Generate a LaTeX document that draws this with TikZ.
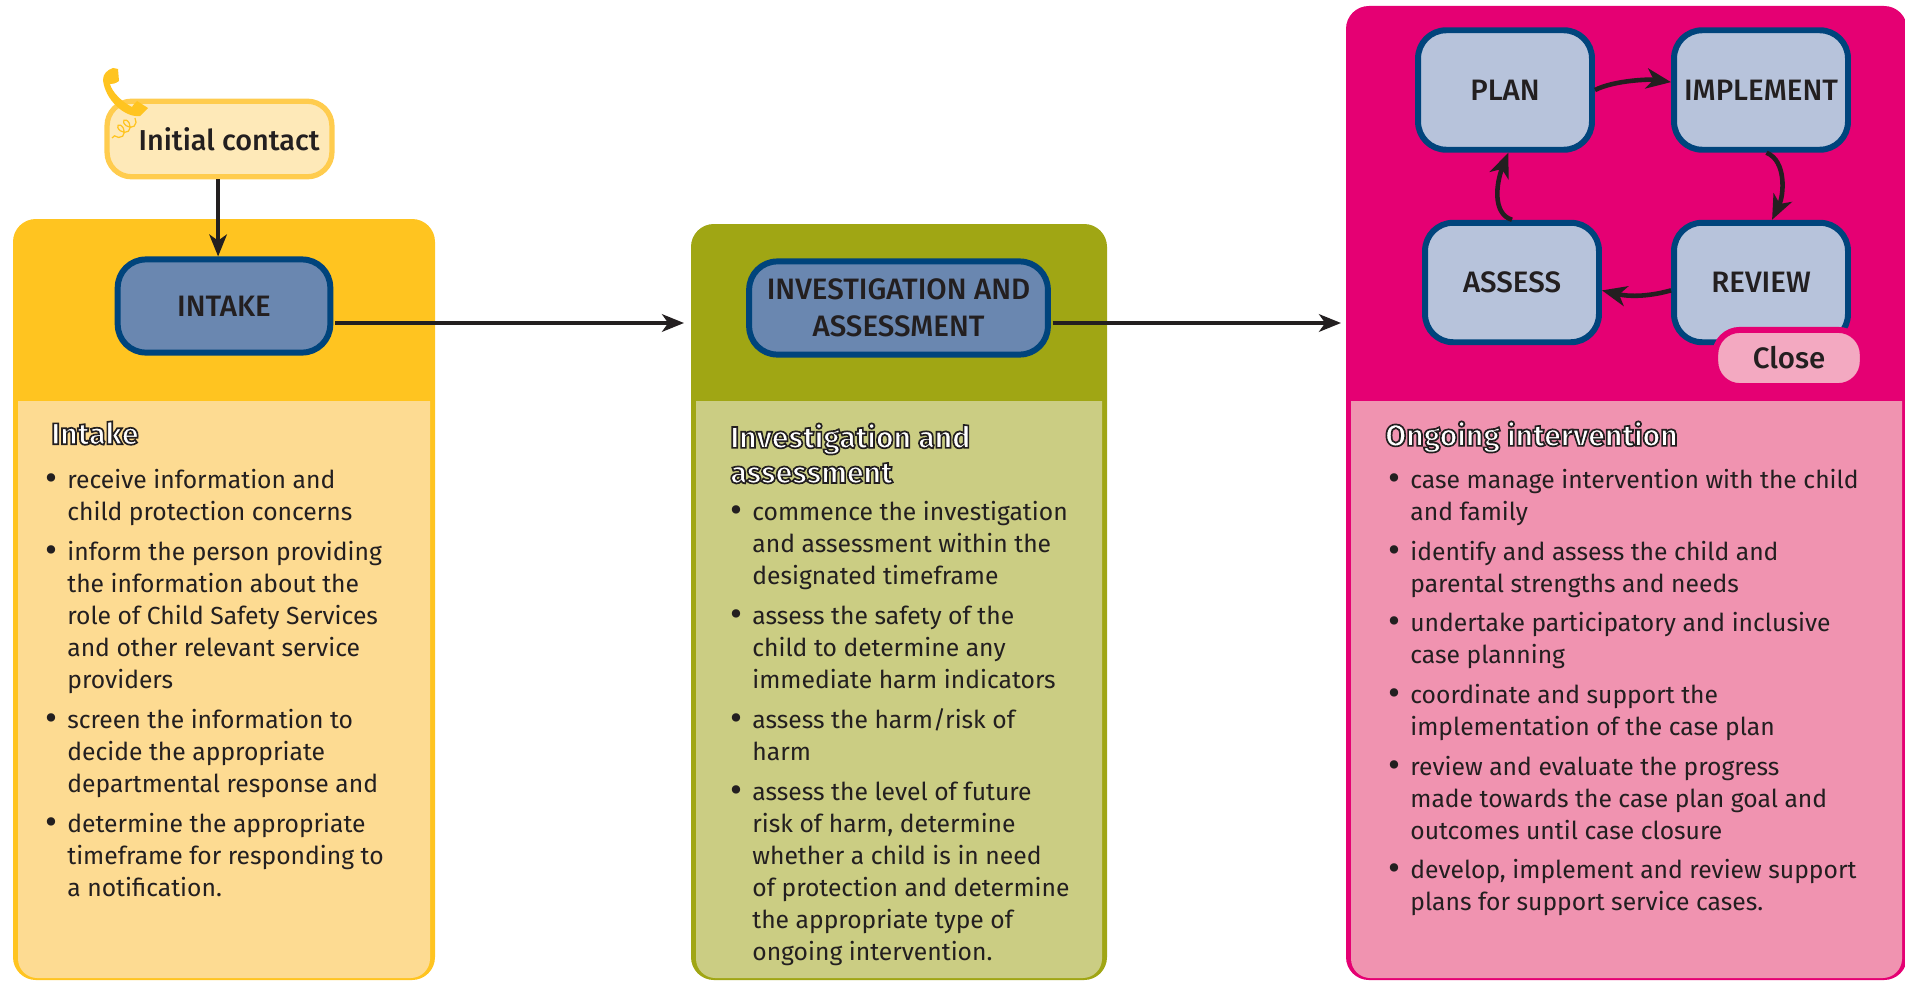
\documentclass[tikz,border=0pt]{standalone}
\usepackage{fontspec}
\usepackage{xcolor}
\usetikzlibrary{arrows.meta, positioning, calc, decorations.pathmorphing}
\setmainfont{Fira Sans}
\newfontfamily\labelfont{Fira Sans Medium}

\definecolor{inkdark}{HTML}{231F20}
\definecolor{intakedark}{HTML}{FFC420}
\definecolor{intakelight}{HTML}{FDDB92}
\definecolor{investdark}{HTML}{A0A614}
\definecolor{investlight}{HTML}{CBCD83}
\definecolor{ongoingdark}{HTML}{E50073}
\definecolor{ongoinglight}{HTML}{F093B0}
\definecolor{boxline}{HTML}{00447C}
\definecolor{boxblue}{HTML}{6A87B0}
\definecolor{boxpale}{HTML}{B7C3DB}
\definecolor{contactfill}{HTML}{FEE9B8}
\definecolor{contactline}{HTML}{FFCC4E}
\definecolor{closefill}{HTML}{F3A9C1}

% white letters with a dark edge
\newcommand{\outlined}[1]{\special{pdf:code q 2 Tr 0.95 w 0.137 0.122 0.125 RG 1 1 1 rg}#1\special{pdf:code Q}}
\newcommand{\pointmark}{\rule{0pt}{12pt}\llap{\raisebox{-1pt}{\fontsize{21}{18}\selectfont\textbullet}\hspace{5.5pt}}}

\tikzset{
  stage/.style={draw=boxline, fill=boxblue, line width=3.4pt, rounded corners=16pt, align=center, text=inkdark,
    inner sep=0pt, font=\labelfont\fontsize{16.8}{20.8}\selectfont},
  cyclebox/.style={stage, fill=boxpale, minimum width=99pt, minimum height=68pt},
  flow/.style={-{Stealth[length=12.5pt, width=10pt, inset=3.5pt]}, draw=inkdark, line width=2pt},
  cyclearrow/.style={flow, line width=2.6pt, -{Stealth[length=14pt, width=11.5pt, inset=4pt]}},
  heading/.style={anchor=north west, inner sep=0pt, align=left, text=inkdark,
    font=\bfseries\fontsize{17.2}{20}\selectfont},
  points/.style={anchor=north west, inner sep=0pt, align=left, text=inkdark,
    font=\fontsize{14.05}{18.2}\selectfont},
}

\begin{document}
\begin{tikzpicture}[x=0.02cm, y=-0.02cm]
  \useasboundingbox (0,0) rectangle (1905,980);
  \clip (0,0) rectangle (1905,980);

  % Panels
  \foreach \xa/\xb/\ya/\main/\pale in {13/435/219/intakedark/intakelight, 691/1107/224/investdark/investlight, 1346/1907/6/ongoingdark/ongoinglight} {
      \fill[\main, rounded corners=13pt] (\xa,\ya) rectangle (\xb,980);
      \fill[\pale] (\xa+5,401) [rounded corners=11pt] -- (\xa+5,978) -- (\xb-5,978) [sharp corners] -- (\xb-5,401) -- cycle;
  }

  % Initial contact
  \node[draw=contactline, fill=contactfill, line width=3pt, rounded corners=14pt, inner sep=0pt, minimum width=128pt, minimum height=43pt,
    text=inkdark, font=\labelfont\fontsize{16.4}{19}\selectfont] (contact) at (219.5,139) {\hspace{11pt}Initial contact};

  % Telefon
  \fill[intakedark] (113,68) -- (118,69) -- (119,81) .. controls (115,84) and (112,84) .. (110,84)
    .. controls (112,92) and (122,102) .. (132,107) .. controls (133,105) and (135,103) .. (137,101)
    -- (148,108) -- (140,116) .. controls (125,118) and (105,100) .. (103,80) .. controls (103,74) and (107,70) .. (113,68) -- cycle;
  \draw[intakedark, line width=0.7pt, decorate, decoration={coil, aspect=0.7, segment length=4.4pt, amplitude=3.2pt}] (135,118) -- (112,138);

  % Stages
  \node[stage, minimum width=121pt, minimum height=53pt] (intake) at (224,306) {INTAKE};
  \node[stage, minimum width=170pt, minimum height=53pt] (invest) at (898.5,308) {INVESTIGATION AND\\ASSESSMENT};
  \coordinate (ongoing) at (1341,323);
  \coordinate (investin) at (684,323);
  \draw[flow] (contact.-92) -- (contact.-92 |- intake.north);
  \draw[flow, shorten <=1pt] (intake.east |- investin) -- (investin);
  \draw[flow, shorten <=1pt] (invest.east |- ongoing) -- (ongoing);

  % Kreislauf
  \node[cyclebox] (plan) at (1505,90) {PLAN};
  \node[cyclebox] (implement) at (1761,90) {IMPLEMENT};
  \node[cyclebox] (assess) at (1512,282.5) {ASSESS};
  \node[cyclebox] (review) at (1761,282.5) {REVIEW};
  \draw[cyclearrow] (plan.east) .. controls +(20,-10) and +(-20,-3) .. (implement.175);
  \draw[cyclearrow] (implement.-85) .. controls +(20,8) and +(12,-25) .. (review.80);
  \draw[cyclearrow] (review.185.4) .. controls +(-25,7) and +(25,6) .. (assess.-5);
  \draw[cyclearrow] (assess.north) .. controls +(-20,-6) and +(-12,30) .. (plan.-87);
  \node[draw=ongoingdark, fill=closefill, line width=3.4pt, rounded corners=14pt, inner sep=0pt, minimum width=84pt, minimum height=32pt,
    text=inkdark, font=\labelfont\fontsize{16.8}{20}\selectfont] (close) at (1789,358) {Close};

  % Headings
  \node[heading] (intakehead) at (51,421) {\outlined{Intake}};
  \node[heading] (investhead) at (730,423) {\outlined{Investigation and}\\\outlined{assessment}};
  \node[heading] (ongoinghead) at (1385,421) {\outlined{Ongoing intervention}};

  % Texte
  \foreach \name/\xpos/\ypos/\body in {
    a1/67/467.5/{receive information and\\child protection concerns},
    a2/67/539.5/{inform the person providing\\the information about the\\role of Child Safety Services\\and other relevant service\\providers},
    a3/67/707.5/{screen the information to\\decide the appropriate\\departmental response and},
    a4/67/811.5/{determine the appropriate\\timeframe for responding to\\a notification.},
    b1/752/499.5/{commence the investigation\\and assessment within the\\designated timeframe},
    b2/752/603.5/{assess the safety of the\\child to determine any\\immediate harm indicators},
    b3/752/707.5/{assess the harm/risk of\\harm},
    b4/752/779.5/{assess the level of future\\risk of harm, determine\\whether a child is in need\\of protection and determine\\the appropriate type of\\ongoing intervention.},
    c1/1410/467.5/{case manage intervention with the child\\and family},
    c2/1410/539.5/{identify and assess the child and\\parental strengths and needs},
    c3/1410/610.5/{undertake participatory and inclusive\\case planning},
    c4/1410/682.5/{coordinate and support the\\implementation of the case plan},
    c5/1410/754.5/{review and evaluate the progress\\made towards the case plan goal and\\outcomes until case closure},
    c6/1410/857.5/{develop, implement and review support\\plans for support service cases.}} {
      \node[points] (\name) at (\xpos,\ypos) {\pointmark\body};
  }
\end{tikzpicture}
\end{document}
